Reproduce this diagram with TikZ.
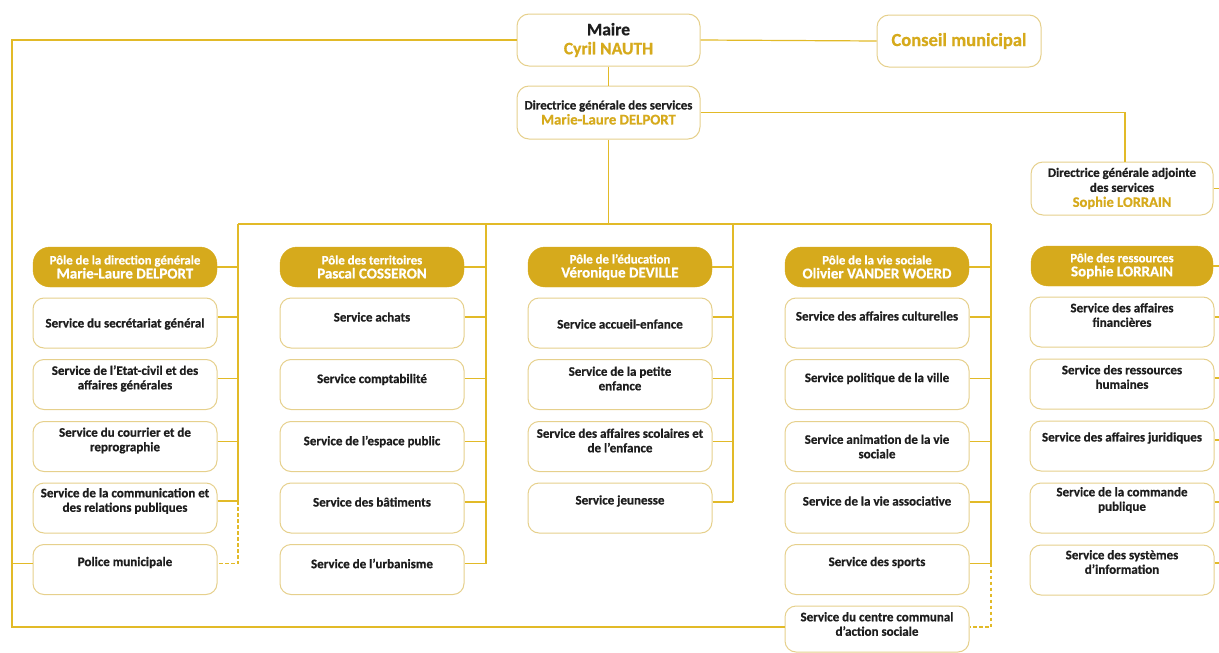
\documentclass[tikz,border=0pt]{standalone}
\usepackage{fontspec}
\setmainfont{Carlito}[BoldFeatures={FakeBold=0.7}]
\usetikzlibrary{calc}
\definecolor{gold}{RGB}{214,170,28}
\definecolor{linegold}{RGB}{226,186,40}
\definecolor{boxline}{RGB}{230,208,140}
\definecolor{txt}{RGB}{30,30,30}
\tikzset{
  conn/.style={draw=linegold, line width=1.2pt},
  dconn/.style={conn, dash pattern=on 3.5pt off 2.5pt},
  svc/.style={draw=boxline, line width=1pt, fill=white, rounded corners=11pt,
    minimum width=184pt, minimum height=50pt, inner sep=0pt},
  svctxt/.style={font=\fontsize{13}{14.5}\selectfont\bfseries, text=txt, align=center, inner sep=0pt},
  pole/.style={fill=gold, draw=gold, rounded corners=17pt, minimum width=184pt,
    minimum height=40pt, inner sep=0pt, text=white, align=center,
    font=\fontsize{12.8}{14}\selectfont\bfseries},
  topbox/.style={draw=boxline, line width=1pt, fill=white, rounded corners=12pt,
    minimum width=183pt, minimum height=52pt, inner sep=0pt, align=center, text=txt},
}
\newcommand\svcnode[5]{%
  \node[svc] (#1) at (#2,#3) {};
  \node[svctxt] (#1t) at ([yshift=#4pt]#1.center) {#5};}
\newcommand\polename[1]{{\fontsize{15}{16}\selectfont #1}}
\begin{document}
\begin{tikzpicture}[x=1pt,y=-1pt]
\useasboundingbox (0,0) rectangle (1219,653);
% top
\node[topbox, font=\fontsize{17.5}{19}\selectfont\bfseries] (maire) at (608.5,40) {Maire\\\textcolor{gold}{Cyril NAUTH}};
\node[topbox, minimum width=164pt, font=\fontsize{18.5}{19}\selectfont\bfseries, text=gold] (conseil) at (959,41) {Conseil municipal};
\node[topbox, minimum height=53pt, font=\fontsize{12.9}{15}\selectfont\bfseries] (dgs) at (608.5,112.5) {Directrice générale des services\\\textcolor{gold}{\fontsize{14.8}{15}\selectfont Marie-Laure DELPORT}};
\node[topbox, minimum width=182pt, minimum height=53pt, font=\fontsize{12.9}{15}\selectfont\bfseries] (dga) at (1122,188.5) {Directrice générale adjointe\\des services\\\textcolor{gold}{\fontsize{14.5}{15}\selectfont Sophie LORRAIN}};
% poles
\node[pole] (p1) at (125,267) {Pôle de la direction générale\\\polename{Marie-Laure DELPORT}};
\node[pole] (p2) at (372,267) {Pôle des territoires\\\polename{Pascal COSSERON}};
\node[pole] (p3) at (620,267) {Pôle de l’éducation\\\polename{Véronique DEVILLE}};
\node[pole] (p4) at (877,267) {Pôle de la vie sociale\\\polename{Olivier VANDER WOERD}};
\node[pole, minimum width=182pt] (p5) at (1122,266) {Pôle des ressources\\\polename{Sophie LORRAIN}};
% column 1
\svcnode{a1}{125}{323}{-1}{Service du secrétariat général}
\svcnode{a2}{125}{384.5}{6}{Service de l’Etat-civil et des\\affaires générales}
\svcnode{a3}{125}{446.5}{6}{Service du courrier et de\\reprographie}
\svcnode{a4}{125}{508}{7}{Service de la communication et\\des relations publiques}
\svcnode{a5}{125}{569.5}{7}{Police municipale}
% column 2
\svcnode{b1}{372}{323}{6}{Service achats}
\svcnode{b2}{372}{384.5}{5}{Service comptabilité}
\svcnode{b3}{372}{446.5}{5}{Service de l’espace public}
\svcnode{b4}{372}{508}{6}{Service des bâtiments}
\svcnode{b5}{372}{569.5}{6}{Service de l’urbanisme}
% column 3
\svcnode{c1}{620}{323}{-1}{Service accueil-enfance}
\svcnode{c2}{620}{384.5}{6}{Service de la petite\\enfance}
\svcnode{c3}{620}{446.5}{6}{Service des affaires scolaires et\\de l’enfance}
\svcnode{c4}{620}{508}{7}{Service jeunesse}
% column 4
\svcnode{d1}{877}{323}{7}{Service des affaires culturelles}
\svcnode{d2}{877}{384.5}{6}{Service politique de la ville}
\svcnode{d3}{877}{446.5}{0}{Service animation de la vie\\sociale}
\svcnode{d4}{877}{508}{7}{Service de la vie associative}
\svcnode{d5}{877}{569.5}{7}{Service des sports}
\node[svc, minimum height=46pt] (d6) at (877,629) {};
\node[svctxt] (d6t) at ([yshift=5pt]d6.center) {Service du centre communal\\d’action sociale};
% column 5
\svcnode{e1}{1122}{322}{7}{Service des affaires\\financières}
\svcnode{e2}{1122}{384}{7}{Service des ressources\\humaines}
\svcnode{e3}{1122}{446}{8}{Service des affaires juridiques}
\svcnode{e4}{1122}{508}{8}{Service de la commande\\publique}
\svcnode{e5}{1122}{570}{8}{Service des systèmes\\d’information}
% coordinates
\coordinate (loop) at (12,0);
\coordinate (bus) at (0,224);
\coordinate (k1) at (238,224);
\coordinate (k2) at (486,224);
\coordinate (k3) at (733,224);
\coordinate (k4) at (991,224);
\coordinate (kd) at (1125,0);
\coordinate (edge) at (1219,0);
\coordinate (ccasW) at ([yshift=2pt]d6.west);
\coordinate (ccasE) at ([yshift=2pt]d6.east);
\coordinate (polW) at ([yshift=6pt]a5.west);
\coordinate (polE) at ([yshift=6pt]a5.east);
\foreach \n/\s in {p1/0,a1/6,a2/6,a3/5,a4/7,p2/0,b1/6,b2/6,b3/5,b4/6,b5/6,p3/0,c1/6,c2/6,c3/5,c4/6,p4/0,d1/6,d2/6,d3/5,d4/6,d5/6,p5/0,e1/5,e2/6,e3/6,e4/6,e5/7}{\coordinate (\n c) at ([yshift=\s pt]\n.east);}
% top connectors
\draw[conn] (maire.east) -- (conseil.west);
\draw[conn] (maire.south) -- (dgs.north);
\draw[conn] (dgs.south) -- (dgs.south |- bus);
\draw[conn] (k1) -- (k4);
\draw[conn] (dgs.east) -- (dgs.east -| kd) -- (kd |- dga.north);
\draw[conn] (dga.east) -- (dga.east -| edge);
\draw[conn] (maire.west) -- (maire.west -| loop) -- (loop |- ccasW) -- (ccasW);
\draw[conn] (polW) -- (polW -| loop);
% column 1
\draw[conn] (k1) -- (k1 |- a4c);
\foreach \n in {p1,a1,a2,a3,a4}{\draw[conn] (\n c) -- (\n c -| k1);}
\draw[dconn] (k1 |- a4c) -- (k1 |- polE) -- (polE);
% column 2
\draw[conn] (k2) -- (k2 |- b5c);
\foreach \n in {p2,b1,b2,b3,b4,b5}{\draw[conn] (\n c) -- (\n c -| k2);}
% column 3
\draw[conn] (k3) -- (k3 |- c4c);
\foreach \n in {p3,c1,c2,c3,c4}{\draw[conn] (\n c) -- (\n c -| k3);}
% column 4
\draw[conn] (k4) -- (k4 |- d5c);
\foreach \n in {p4,d1,d2,d3,d4,d5}{\draw[conn] (\n c) -- (\n c -| k4);}
\draw[dconn] (k4 |- d5c) -- (k4 |- ccasE) -- (ccasE);
% column 5
\foreach \n in {p5,e1,e2,e3,e4,e5}{\draw[conn] (\n c) -- (\n c -| edge);}
\end{tikzpicture}
\end{document}
